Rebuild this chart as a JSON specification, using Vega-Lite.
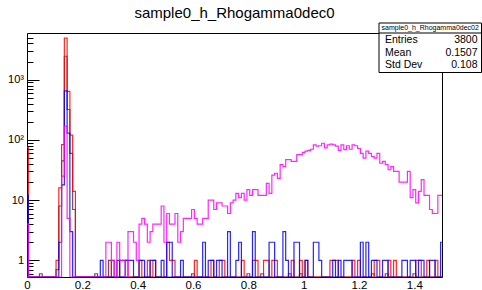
{
"$schema": "https://vega.github.io/schema/vega-lite/v6.json",
"width": 415, "height": 244,
"autosize": {"type": "none"},
"padding": {"left": 27, "top": 33, "right": 40, "bottom": 13},
"background": "white",
"config": {"font": "Liberation Sans", "view": {"stroke": null},
  "axis": {"labelFont": "Liberation Sans", "labelColor": "#000", "domainColor": "#000", "tickColor": "#000", "grid": false, "title": null, "labelFlush": false, "labelOverlap": false}},
"title": {"text": "sample0_h_Rhogamma0dec0", "fontSize": 15, "fontWeight": "normal", "font": "Liberation Sans", "color": "#000", "anchor": "middle", "frame": "group", "baseline": "alphabetic", "offset": -10},
"data": {"values": [
{"x":0,"r":75,"b":12,"m":4,"k":0},{"x":0.01,"r":0,"b":0,"m":0,"k":0},{"x":0.02,"r":0,"b":0,"m":0,"k":0},{"x":0.03,"r":0,"b":0,"m":0,"k":0},{"x":0.04,"r":0,"b":0,"m":0,"k":0},
{"x":0.05,"r":0,"b":0,"m":0,"k":0.6},{"x":0.06,"r":0,"b":0,"m":0,"k":0},{"x":0.07,"r":0,"b":0,"m":0,"k":0},{"x":0.08,"r":0,"b":0,"m":0,"k":0},{"x":0.09,"r":0,"b":0,"m":0,"k":0},
{"x":0.1,"r":0,"b":0,"m":0,"k":0},{"x":0.11,"r":1,"b":0,"m":0,"k":0.7},{"x":0.12,"r":16,"b":2,"m":0,"k":8},{"x":0.13,"r":84,"b":18,"m":25,"k":45},{"x":0.14,"r":4900,"b":650,"m":170,"k":2450},
{"x":0.15,"r":640,"b":130,"m":5,"k":320},{"x":0.16,"r":120,"b":3,"m":0,"k":60},{"x":0.17,"r":14,"b":0,"m":0,"k":7},{"x":0.18,"r":0,"b":0,"m":0,"k":0},{"x":0.19,"r":0,"b":0,"m":0,"k":0},
{"x":0.2,"r":0,"b":0,"m":0,"k":0},{"x":0.21,"r":0,"b":0,"m":0,"k":0},{"x":0.22,"r":0,"b":0,"m":0,"k":0},{"x":0.23,"r":0,"b":0,"m":0,"k":0},{"x":0.24,"r":0,"b":0,"m":0,"k":0},
{"x":0.25,"r":0,"b":0,"m":0,"k":0.6},{"x":0.26,"r":0,"b":0,"m":0,"k":0},{"x":0.27,"r":0,"b":1,"m":0,"k":0},{"x":0.28,"r":0,"b":0,"m":0,"k":0},{"x":0.29,"r":0,"b":0,"m":2,"k":0},
{"x":0.3,"r":0,"b":0,"m":2,"k":1},{"x":0.31,"r":1,"b":0,"m":1,"k":0},{"x":0.32,"r":0,"b":0,"m":0,"k":0},{"x":0.33,"r":0,"b":1,"m":2,"k":0},{"x":0.34,"r":1,"b":0,"m":1,"k":0},
{"x":0.35,"r":1,"b":0,"m":1,"k":0},{"x":0.36,"r":1,"b":1,"m":0,"k":0},{"x":0.37,"r":0,"b":1,"m":3,"k":0},{"x":0.38,"r":0,"b":1,"m":3,"k":0},{"x":0.39,"r":0,"b":0,"m":2,"k":0},
{"x":0.4,"r":0,"b":0,"m":1,"k":0},{"x":0.41,"r":1,"b":1,"m":4,"k":0},{"x":0.42,"r":0,"b":1,"m":5,"k":0},{"x":0.43,"r":0,"b":0,"m":4,"k":0},{"x":0.44,"r":1,"b":0,"m":2,"k":0},
{"x":0.45,"r":0,"b":1,"m":3,"k":0},{"x":0.46,"r":1,"b":1,"m":4,"k":0},{"x":0.47,"r":0,"b":0,"m":4,"k":0},{"x":0.48,"r":0,"b":0,"m":4,"k":0},{"x":0.49,"r":0,"b":1,"m":8,"k":0},
{"x":0.5,"r":0,"b":0,"m":2,"k":0},{"x":0.51,"r":2,"b":2,"m":6,"k":0},{"x":0.52,"r":1,"b":2,"m":4,"k":0},{"x":0.53,"r":1,"b":0,"m":4,"k":0},{"x":0.54,"r":0,"b":0,"m":6,"k":0},
{"x":0.55,"r":0,"b":0,"m":2,"k":0},{"x":0.56,"r":0,"b":1,"m":3,"k":0},{"x":0.57,"r":0,"b":0,"m":5,"k":0},{"x":0.58,"r":0,"b":0,"m":5,"k":0},{"x":0.59,"r":0,"b":0,"m":5,"k":0},
{"x":0.6,"r":0,"b":0,"m":7,"k":0.6},{"x":0.61,"r":1,"b":0,"m":5,"k":0},{"x":0.62,"r":0,"b":0,"m":4,"k":0},{"x":0.63,"r":0,"b":0,"m":4,"k":0},{"x":0.64,"r":0,"b":2,"m":5,"k":0},
{"x":0.65,"r":0,"b":0,"m":5,"k":0},{"x":0.66,"r":0,"b":1,"m":10,"k":0},{"x":0.67,"r":1,"b":1,"m":10,"k":0},{"x":0.68,"r":0,"b":0,"m":7,"k":0},{"x":0.69,"r":0,"b":1,"m":9,"k":0},
{"x":0.7,"r":1,"b":1,"m":9,"k":0},{"x":0.71,"r":1,"b":0,"m":8,"k":0},{"x":0.72,"r":0,"b":0,"m":8,"k":0},{"x":0.73,"r":0,"b":3,"m":6,"k":0},{"x":0.74,"r":0,"b":0,"m":9,"k":0},
{"x":0.75,"r":0,"b":0,"m":10,"k":0},{"x":0.76,"r":0,"b":1,"m":13,"k":0},{"x":0.77,"r":0,"b":2,"m":11,"k":0},{"x":0.78,"r":1,"b":0,"m":13,"k":0},{"x":0.79,"r":0,"b":0,"m":10,"k":0},
{"x":0.8,"r":0,"b":0,"m":15,"k":0.6},{"x":0.81,"r":0,"b":0,"m":12,"k":0},{"x":0.82,"r":1,"b":3,"m":15,"k":0},{"x":0.83,"r":1,"b":0,"m":15,"k":0},{"x":0.84,"r":0,"b":0,"m":12,"k":0},
{"x":0.85,"r":0,"b":0,"m":12,"k":0.6},{"x":0.86,"r":1,"b":0,"m":12,"k":0},{"x":0.87,"r":1,"b":0,"m":19,"k":0},{"x":0.88,"r":0,"b":2,"m":13,"k":0},{"x":0.89,"r":1,"b":2,"m":26,"k":0},
{"x":0.9,"r":1,"b":0,"m":28,"k":0},{"x":0.91,"r":0,"b":0,"m":23,"k":0},{"x":0.92,"r":0,"b":0,"m":39,"k":0},{"x":0.93,"r":0,"b":3,"m":36,"k":0},{"x":0.94,"r":0,"b":1,"m":47,"k":0},
{"x":0.95,"r":0,"b":0,"m":47,"k":0.6},{"x":0.96,"r":1,"b":0,"m":44,"k":0},{"x":0.97,"r":0,"b":2,"m":44,"k":0},{"x":0.98,"r":0,"b":2,"m":57,"k":0},{"x":0.99,"r":1,"b":0,"m":57,"k":0.6},
{"x":1,"r":0,"b":0,"m":62,"k":0},{"x":1.01,"r":1,"b":1,"m":65,"k":0},{"x":1.02,"r":0,"b":0,"m":67,"k":0},{"x":1.03,"r":0,"b":0,"m":70,"k":0},{"x":1.04,"r":0,"b":2,"m":83,"k":0},
{"x":1.05,"r":0,"b":2,"m":79,"k":0},{"x":1.06,"r":0,"b":1,"m":80,"k":0},{"x":1.07,"r":0,"b":0,"m":88,"k":0},{"x":1.08,"r":0,"b":0,"m":74,"k":0},{"x":1.09,"r":0,"b":0,"m":83,"k":0},
{"x":1.1,"r":1,"b":0,"m":85,"k":0},{"x":1.11,"r":1,"b":1,"m":83,"k":0},{"x":1.12,"r":1,"b":0,"m":79,"k":0},{"x":1.13,"r":0,"b":1,"m":67,"k":0},{"x":1.14,"r":0,"b":0,"m":83,"k":0},
{"x":1.15,"r":0,"b":1,"m":69,"k":0},{"x":1.16,"r":0,"b":1,"m":80,"k":0},{"x":1.17,"r":0,"b":1,"m":70,"k":0},{"x":1.18,"r":1,"b":0,"m":83,"k":0},{"x":1.19,"r":0,"b":0,"m":80,"k":0},
{"x":1.2,"r":1,"b":0,"m":72,"k":0},{"x":1.21,"r":0,"b":2,"m":60,"k":0},{"x":1.22,"r":0,"b":0,"m":50,"k":0},{"x":1.23,"r":0,"b":2,"m":65,"k":0},{"x":1.24,"r":0,"b":0,"m":60,"k":0},
{"x":1.25,"r":0,"b":1,"m":53,"k":0.6},{"x":1.26,"r":1,"b":1,"m":50,"k":0},{"x":1.27,"r":1,"b":0,"m":60,"k":0},{"x":1.28,"r":0,"b":0,"m":41,"k":0},{"x":1.29,"r":0,"b":1,"m":44,"k":0},
{"x":1.3,"r":0,"b":1,"m":39,"k":0.6},{"x":1.31,"r":1,"b":0,"m":32,"k":0},{"x":1.32,"r":0,"b":0,"m":36,"k":0},{"x":1.33,"r":1,"b":0,"m":30,"k":0},{"x":1.34,"r":0,"b":0,"m":30,"k":0},
{"x":1.35,"r":0,"b":0,"m":20,"k":0},{"x":1.36,"r":0,"b":1,"m":20,"k":0},{"x":1.37,"r":0,"b":1,"m":20,"k":0},{"x":1.38,"r":0,"b":0,"m":30,"k":0},{"x":1.39,"r":0,"b":1,"m":11,"k":0},
{"x":1.4,"r":0,"b":1,"m":15,"k":0.6},{"x":1.41,"r":1,"b":0,"m":9,"k":0},{"x":1.42,"r":1,"b":1,"m":14,"k":0},{"x":1.43,"r":0,"b":1,"m":22,"k":0},{"x":1.44,"r":0,"b":0,"m":12,"k":0},
{"x":1.45,"r":1,"b":0,"m":12,"k":0},{"x":1.46,"r":0,"b":1,"m":7,"k":0},{"x":1.47,"r":0,"b":1,"m":6,"k":0},{"x":1.48,"r":1,"b":0,"m":6,"k":0},{"x":1.49,"r":0,"b":0,"m":12,"k":0},
{"x":1.5,"r":0,"b":2,"m":12,"k":0}
]},
"layer": [
  {"mark": {"type": "line", "interpolate": "step", "color": "#401020", "strokeWidth": 1.2, "opacity": 0.75, "invalid": "show", "clip": true},
   "encoding": {
     "x": {"field": "x", "type": "quantitative", "scale": {"domain": [0, 1.5], "nice": false, "zero": false},
           "axis": {"orient": "bottom", "values": [0, 0.2, 0.4, 0.6, 0.8, 1, 1.2, 1.4], "format": "~g", "ticks": false, "labelPadding": 2, "labelFontSize": 11.5, "domainWidth": 1}},
     "y": {"field": "k", "type": "quantitative", "scale": {"type": "log", "domain": [0.53, 5960], "nice": false, "clamp": true},
           "axis": {"orient": "left", "values": [1, 10, 100, 1000], "ticks": false, "labelPadding": 3.5, "labelFontSize": 11, "domainWidth": 1,
                    "labelExpr": "datum.value == 1000 ? '10³' : datum.value == 100 ? '10²' : datum.value == 10 ? '10' : '1'"}}
   }},
  {"mark": {"type": "line", "interpolate": "step", "color": "#ff0000", "strokeWidth": 1.2, "opacity": 0.85, "invalid": "show", "clip": true},
   "encoding": {
     "x": {"field": "x", "type": "quantitative", "scale": {"domain": [0, 1.5], "nice": false, "zero": false},
           "axis": {"orient": "top", "labels": false, "ticks": false, "domain": true, "domainWidth": 1}},
     "y": {"field": "r", "type": "quantitative", "scale": {"type": "log", "domain": [0.53, 5960], "nice": false, "clamp": true},
           "axis": {"orient": "right", "labels": false, "ticks": false, "domain": true, "domainWidth": 1}}
   }},
  {"mark": {"type": "line", "interpolate": "step", "color": "#0000ff", "strokeWidth": 1.2, "opacity": 0.85, "invalid": "show", "clip": true},
   "encoding": {
     "x": {"field": "x", "type": "quantitative", "scale": {"domain": [0, 1.5], "nice": false, "zero": false}, "axis": null},
     "y": {"field": "b", "type": "quantitative", "scale": {"type": "log", "domain": [0.53, 5960], "nice": false, "clamp": true},
           "axis": {"orient": "right", "offset": -415, "values": [1, 10, 100, 1000], "labels": false, "domain": false, "ticks": true, "tickSize": 12, "tickWidth": 1}}
   }},
  {"mark": {"type": "line", "interpolate": "step", "color": "#ff00ff", "strokeWidth": 1.2, "opacity": 0.85, "invalid": "show", "clip": true},
   "encoding": {
     "x": {"field": "x", "type": "quantitative", "scale": {"domain": [0, 1.5], "nice": false, "zero": false}, "axis": null},
     "y": {"field": "m", "type": "quantitative", "scale": {"type": "log", "domain": [0.53, 5960], "nice": false, "clamp": true},
           "axis": {"orient": "right", "offset": -415, "values": [0.6, 0.7, 0.8, 0.9, 2, 3, 4, 5, 6, 7, 8, 9, 20, 30, 40, 50, 60, 70, 80, 90, 200, 300, 400, 500, 600, 700, 800, 900, 2000, 3000, 4000, 5000], "labels": false, "domain": false, "ticks": true, "tickSize": 6, "tickWidth": 1}}
   }},
  {"data": {"values": [{"k": "Entries", "v": "3800"}, {"k": "Mean", "v": "0.1507"}, {"k": "Std Dev", "v": "0.108"}]},
   "layer": [
     {"transform": [{"filter": "datum.k == 'Entries'"}],
      "mark": {"type": "rect", "fill": "#ffffff", "stroke": "#000000", "strokeWidth": 1},
      "encoding": {
        "x": {"datum": "L", "type": "nominal", "scale": {"type": "point", "domain": ["L", "C", "R"], "range": [352, 454.5], "padding": 0}, "axis": null},
        "x2": {"datum": "R"},
        "y": {"datum": "top", "type": "nominal", "scale": {"type": "point", "domain": ["top", "Entries", "Mean", "Std Dev", "bottom"], "range": [-10, 39.5], "padding": 0}, "axis": null},
        "y2": {"datum": "bottom"}
      }},
     {"transform": [{"filter": "datum.k == 'Entries'"}],
      "mark": {"type": "rule", "stroke": "#000000", "strokeWidth": 1},
      "encoding": {
        "x": {"datum": "L", "type": "nominal"},
        "x2": {"datum": "R"},
        "y": {"datum": "top", "type": "nominal"},
        "yOffset": {"value": 10}
      }},
     {"transform": [{"filter": "datum.k == 'Entries'"}],
      "mark": {"type": "text", "text": "sample0_h_Rhogamma0dec02", "fontSize": 7, "align": "center", "baseline": "middle", "dy": 4.8, "color": "#000"},
      "encoding": {
        "x": {"datum": "C", "type": "nominal"},
        "y": {"datum": "top", "type": "nominal"}
      }},
     {"mark": {"type": "text", "fontSize": 10.5, "align": "left", "baseline": "middle", "dx": 6, "dy": 4.8, "color": "#000"},
      "encoding": {
        "x": {"datum": "L", "type": "nominal"},
        "y": {"field": "k", "type": "nominal"},
        "text": {"field": "k"}
      }},
     {"mark": {"type": "text", "fontSize": 10.5, "align": "right", "baseline": "middle", "dx": -4, "dy": 4.8, "color": "#000"},
      "encoding": {
        "x": {"datum": "R", "type": "nominal"},
        "y": {"field": "k", "type": "nominal"},
        "text": {"field": "v"}
      }}
   ]}
],
"resolve": {"scale": {"x": "independent", "y": "independent"}, "axis": {"x": "independent", "y": "independent"}}
}
